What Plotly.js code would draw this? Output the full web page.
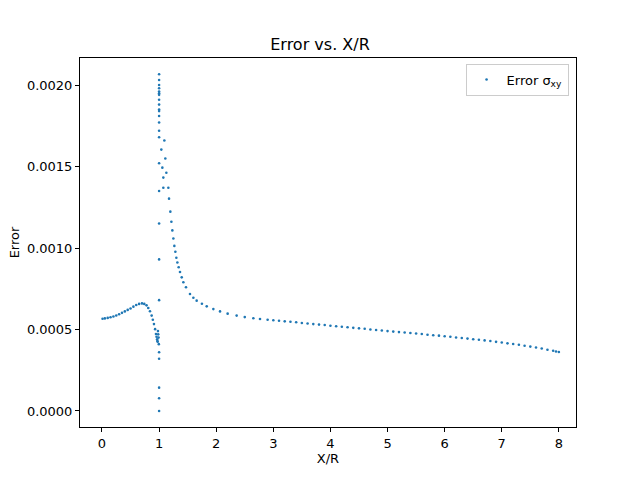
<!DOCTYPE html>
<html>
<head>
<meta charset="utf-8">
<script src="https://cdn.plot.ly/plotly-3.0.1.min.js"></script>
<style>body{margin:0}#chart{width:640px;height:480px}</style>
</head>
<body>
<div id="chart"></div>
<script>
// left branch (x < 1)
const xLeft = [0.01,0.05,0.1,0.15,0.2,0.25,0.3,0.35,0.4,0.45,0.5,0.55,0.6,0.65,0.7,0.74,0.78,0.81,0.84,0.87,0.89,0.91,0.93,0.945,0.955,0.965,0.97,0.975,0.98,0.985,0.99,0.995];
const yLeft = [0.000566,0.000568,0.000571,0.000575,0.000580,0.000586,0.000593,0.000602,0.000611,0.000620,0.000629,0.000640,0.000650,0.000657,0.000660,0.000657,0.000648,0.000632,0.000612,0.000585,0.000560,0.000533,0.000502,0.000472,0.000455,0.000440,0.000430,0.000425,0.000490,0.000470,0.000450,0.000410];

// near-singular column at x = 1
const xSpike = [1,1,1,1,1,1,1,1,1,1,1,1,1,1,1,1,1,1,1,1,1,1,1,1,1];
const ySpike = [0.002066,0.002031,0.002000,0.001980,0.001960,0.001950,0.001940,0.001910,0.001880,0.001850,0.001840,0.001810,0.001770,0.001720,0.001680,0.001520,0.001350,0.001150,0.000930,0.000680,0.000360,0.000320,0.000143,0.000078,0.000000];

// right branch (x > 1)
const xRight = [1.039,1.057,1.074,1.074,1.092,1.109,1.127,1.162,1.174,1.197,1.215,1.232,1.25,1.267,1.285,1.302,1.32,1.343,1.366,1.396,1.425,1.471,1.541,1.6,1.658,1.75,1.834,1.95,2.067,2.2,2.358,2.5,2.65,2.767,
  2.9,3.0,3.1,3.2,3.3,3.4,3.5,3.6,3.7,3.8,3.9,4.0,4.1,4.2,4.3,4.4,4.5,4.6,4.7,4.8,4.9,5.0,5.1,5.2,5.3,5.4,5.5,5.6,5.7,5.8,5.9,6.0,6.1,6.2,6.3,6.4,6.5,6.6,6.7,6.8,6.9,7.0,7.1,7.2,7.3,7.4,7.5,7.6,7.7,7.8,7.9,7.95,8.0];
const yRight = [0.001604,0.001493,0.001432,0.001370,0.001660,0.001549,0.001462,0.001370,0.001303,0.001223,0.001161,0.001108,0.001058,0.001013,0.000977,0.000940,0.000911,0.000882,0.000853,0.000820,0.000790,0.000759,0.000718,0.000695,0.000677,0.000658,0.000642,0.000625,0.000611,0.000597,0.000585,0.000576,0.000569,0.000564,
  0.000560,0.000557,0.000554,0.000550,0.000547,0.000544,0.000540,0.000537,0.000533,0.000530,0.000527,0.000523,0.000520,0.000517,0.000514,0.000510,0.000507,0.000504,0.000500,0.000497,0.000494,0.000490,0.000487,0.000484,0.000481,0.000478,0.000475,0.000472,0.000468,0.000465,0.000462,0.000458,0.000455,0.000451,0.000448,0.000444,0.000440,0.000437,0.000433,0.000429,0.000424,0.000420,0.000415,0.000411,0.000406,0.000400,0.000395,0.000389,0.000383,0.000376,0.000369,0.000365,0.000362];

const xs = [...xLeft, ...xSpike, ...xRight];
const ys = [...yLeft, ...ySpike, ...yRight];

const font = {family:'DejaVu Sans', size:13, color:'#000'};
const axis = {showline:true, linecolor:'#000', linewidth:1, mirror:true, ticks:'outside',
  ticklen:4, tickcolor:'#000', showgrid:false, zeroline:false, tickfont:font};

Plotly.newPlot('chart', [{
  x: xs, y: ys, type:'scatter', mode:'markers', name:'Error σ<sub>xy</sub>',
  marker:{color:'#1f77b4', size:2.6}
}], {
  width:640, height:480, paper_bgcolor:'#fff', plot_bgcolor:'#fff',
  margin:{l:80, r:64, t:58, b:53},
  title:{text:'Error vs. X/R', font:{family:'DejaVu Sans', size:16, color:'#000'},
    x:0.5, xanchor:'center', y:1 - 44/480, yanchor:'middle'},
  xaxis:{...axis, range:[-0.385,8.3], tickvals:[0,1,2,3,4,5,6,7,8],
    title:{text:'X/R', font:font, standoff:4}},
  yaxis:{...axis, range:[-0.0000985,0.002166], tickvals:[0,0.0005,0.001,0.0015,0.002],
    ticktext:['0.0000','0.0005','0.0010','0.0015','0.0020'],
    title:{text:'Error', font:font, standoff:4}},
  showlegend:true,
  legend:{x:0.985, y:0.985, xanchor:'right', yanchor:'top', bordercolor:'#ccc', borderwidth:1, font:font}
}, {displayModeBar:false});
</script>
</body>
</html>
